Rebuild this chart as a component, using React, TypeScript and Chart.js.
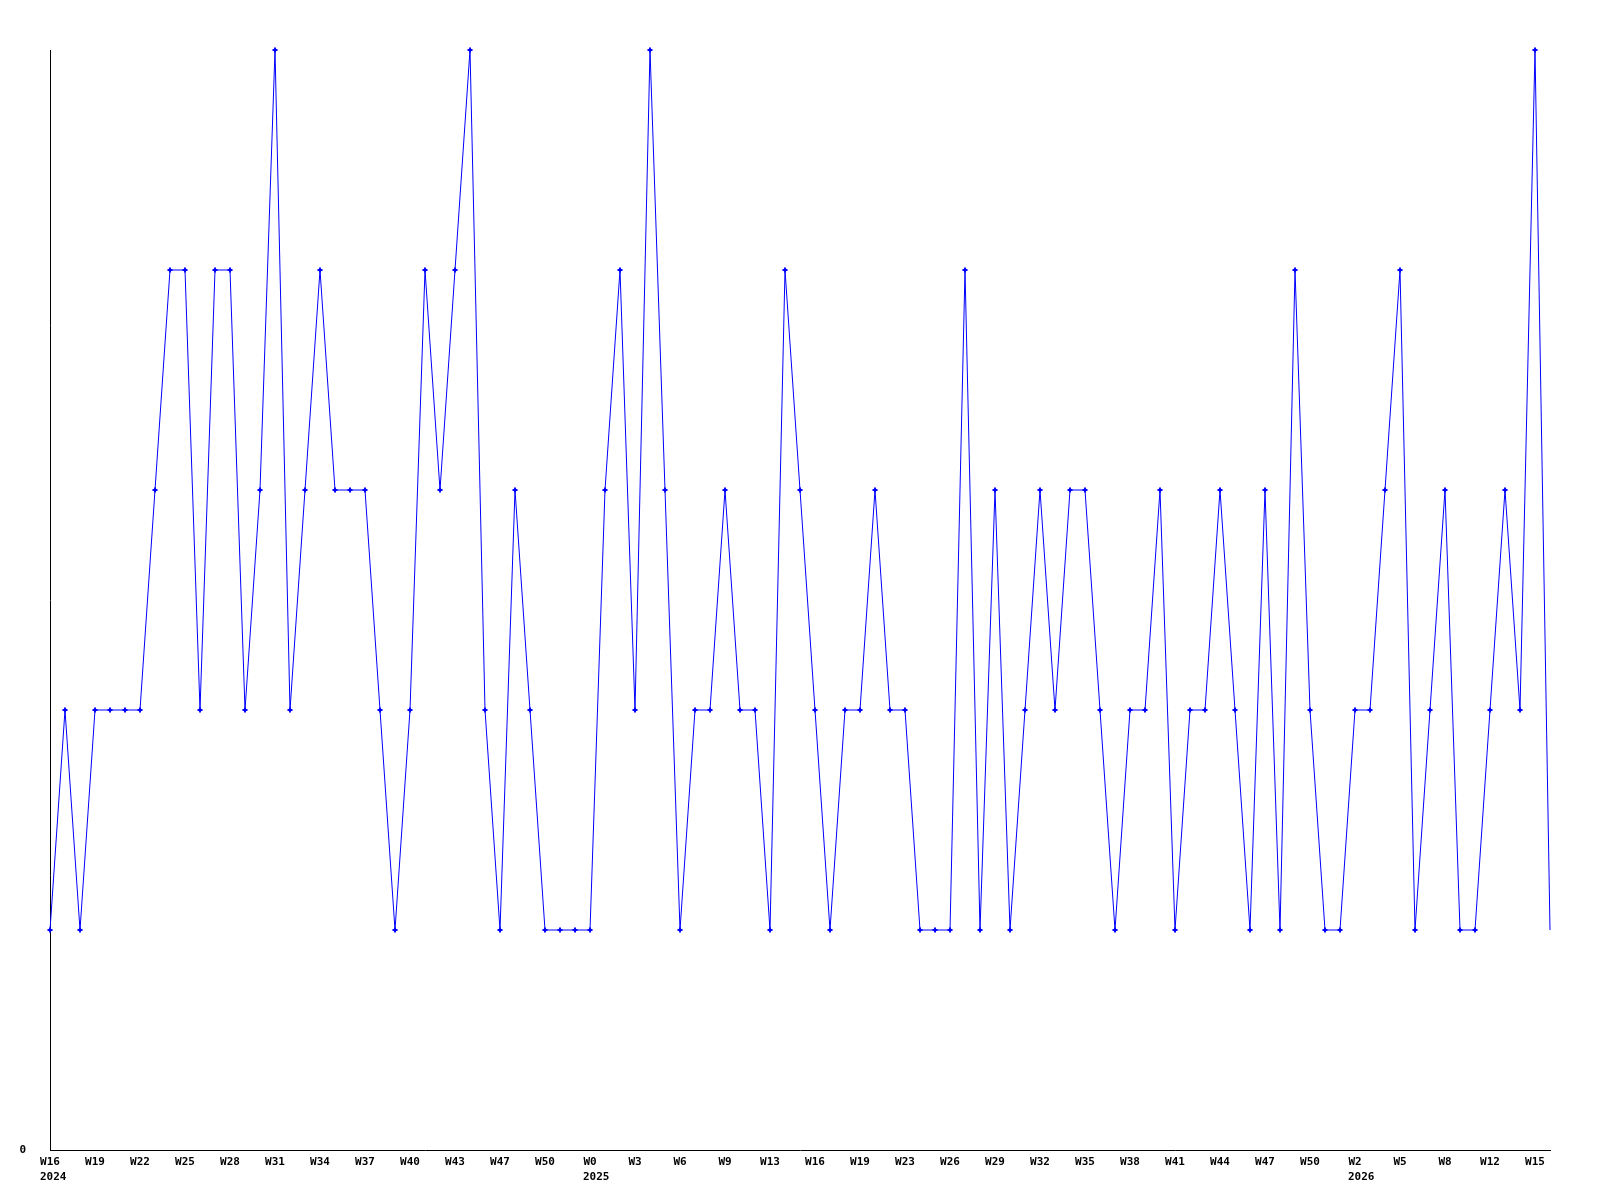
import React, { useEffect, useRef } from "react";
import { Chart, registerables } from "chart.js";

Chart.register(...registerables);

// Weekly values (101 weekly points)
const values: number[] = [
  1, 2, 1, 2, 2, 2, 2, 3, 4, 4,
  2, 4, 4, 2, 3, 5, 2, 3, 4, 3,
  3, 3, 2, 1, 2, 4, 3, 4, 5, 2,
  1, 3, 2, 1, 1, 1, 1, 3, 4, 2,
  5, 3, 1, 2, 2, 3, 2, 2, 1, 4,
  3, 2, 1, 2, 2, 3, 2, 2, 1, 1,
  1, 4, 1, 3, 1, 2, 3, 2, 3, 3,
  2, 1, 2, 2, 3, 1, 2, 2, 3, 2,
  1, 3, 1, 4, 2, 1, 1, 2, 2, 3,
  4, 1, 2, 3, 1, 1, 2, 3, 2, 5,
  1,
];

// Tick labels shown every third point
const weekTicks: string[] = [
  "W16", "W19", "W22", "W25", "W28", "W31", "W34", "W37", "W40", "W43",
  "W47", "W50", "W0", "W3", "W6", "W9", "W13", "W16", "W19", "W23",
  "W26", "W29", "W32", "W35", "W38", "W41", "W44", "W47", "W50", "W2",
  "W5", "W8", "W12", "W15",
];

// Year labels placed under certain ticks (tick index -> year)
const yearTickIndex: number[] = [0, 12, 29];
const yearLabels: string[] = ["2024", "2025", "2026"];

const categories: string[] = values.map((_, i) => String(i));

const FONT_FAMILY = "'DejaVu Sans Mono', monospace";

const yearPlugin = {
  id: "yearLabels",
  afterDraw(chart: any) {
    const xs = chart.scales.x;
    const ctx = chart.ctx;
    ctx.save();
    ctx.font = `bold 11px ${FONT_FAMILY}`;
    ctx.fillStyle = "#000";
    ctx.textAlign = "left";
    ctx.textBaseline = "middle";
    yearTickIndex.forEach((t, k) => {
      const x = xs.getPixelForValue(t * 3);
      const w = ctx.measureText(weekTicks[t]).width;
      ctx.fillText(yearLabels[k], Math.round(x - w / 2), xs.top + 27);
    });
    ctx.restore();
  },
};

export default function App() {
  const ref = useRef<HTMLCanvasElement>(null);

  useEffect(() => {
    if (!ref.current) return;
    const font = { family: FONT_FAMILY, size: 11, weight: "bold" as const, lineHeight: 1.35 };
    const chart = new Chart(ref.current, {
      type: "line",
      data: {
        labels: categories,
        datasets: [
          {
            data: values,
            borderColor: "#0000ff",
            backgroundColor: "#0000ff",
            borderWidth: 1,
            pointStyle: "cross",
            pointRadius: values.map((_, i) => (i === values.length - 1 ? 0 : 2.5)),
            pointBorderWidth: 2,
            pointBorderColor: "#0000ff",
            tension: 0,
            fill: false,
            clip: false as any,
          },
        ],
      },
      options: {
        animation: false,
        responsive: false,
        maintainAspectRatio: false,
        layout: { padding: { left: 0, top: 50, right: 50, bottom: 0 } },
        plugins: { legend: { display: false }, tooltip: { enabled: false } },
        scales: {
          x: {
            type: "category",
            offset: false,
            grid: { display: false, drawTicks: false },
            border: { display: true, color: "#000", width: 1 },
            ticks: {
              autoSkip: false,
              maxRotation: 0,
              minRotation: 0,
              padding: 5,
              color: "#000",
              font,
              callback: (_v: any, idx: number) => {
                if (idx % 3 !== 0) return "";
                const w = weekTicks[idx / 3];
                return w === undefined ? "" : w;
              },
            },
            afterFit: (s: any) => {
              s.height = 50;
            },
          },
          y: {
            min: 0,
            max: 5,
            grid: { display: false, drawTicks: false },
            border: { display: true, color: "#000", width: 1 },
            ticks: {
              stepSize: 1,
              padding: 24,
              color: "#000",
              font,
              callback: (v: any) => (Number(v) === 0 ? "0" : ""),
            },
            afterFit: (s: any) => {
              s.width = 50;
            },
          },
        },
      },
      plugins: [yearPlugin],
    });
    return () => chart.destroy();
  }, []);

  return (
    <div style={{ position: "fixed", left: 0, top: 0, width: 1600, height: 1200, background: "#fff" }}>
      <canvas ref={ref} width={1600} height={1200} style={{ width: 1600, height: 1200, display: "block" }} />
    </div>
  );
}
